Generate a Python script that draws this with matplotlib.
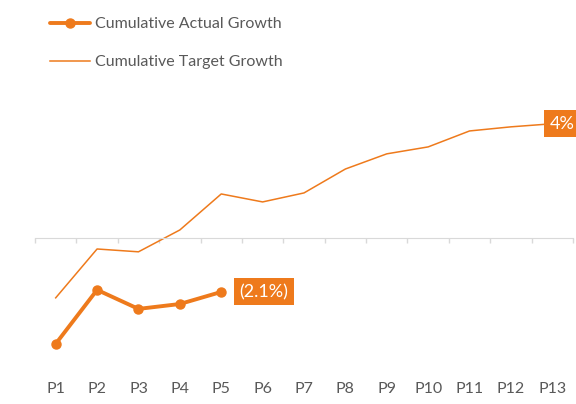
import matplotlib.pyplot as plt
from matplotlib.transforms import blended_transform_factory

plt.rcParams['font.family'] = ['Lato', 'DejaVu Sans']

periods = ['P1', 'P2', 'P3', 'P4', 'P5', 'P6', 'P7', 'P8', 'P9', 'P10', 'P11', 'P12', 'P13']
actual = [-4.12, -2.02, -2.76, -2.57, -2.1]
target = [-2.33, -0.43, -0.54, 0.31, 1.71, 1.40, 1.75, 2.68, 3.27, 3.54, 4.16, 4.32, 4.44]
actual_label = '(2.1%)'
target_label = '4%'

orange = '#EE7A1C'
grey_txt = '#595959'

fig = plt.figure(figsize=(5.76, 4.04), dpi=100)
ax = fig.add_axes([35 / 576, 1 - 366.5 / 404, 538 / 576, 270 / 404])

x = list(range(len(periods)))
ax.plot(x[:len(actual)], actual, color=orange, lw=2.8, marker='o', ms=6.5,
        solid_capstyle='round', label='Cumulative Actual Growth')
ax.plot(x, target, color=orange, lw=1.1, label='Cumulative Target Growth')

ax.set_xlim(-0.5, len(periods) - 0.5)
ax.set_ylim(-5, 5.5)

for s in ['top', 'left', 'right']:
    ax.spines[s].set_visible(False)
ax.spines['bottom'].set_position(('data', 0))
ax.spines['bottom'].set_color('#D9D9D9')
ax.set_yticks([])
ax.set_xticks([i - 0.5 for i in range(len(periods) + 1)])
ax.set_xticklabels([])
ax.tick_params(axis='x', direction='out', length=3.5, color='#D9D9D9', width=1)

tr = blended_transform_factory(ax.transData, ax.transAxes)
for i, p in enumerate(periods):
    ax.text(i, -0.083, p, transform=tr, ha='center', va='center',
            fontsize=11.5, color=grey_txt)

box = dict(boxstyle='square,pad=0.3', fc=orange, ec='none')
ax.annotate(actual_label, (len(actual) - 1, actual[-1]), xytext=(18, 0),
            textcoords='offset pixels', ha='left', va='center', fontsize=13,
            color='white', bbox=box, annotation_clip=False)
ax.annotate(target_label, (len(target) - 1, target[-1]), xytext=(-3, 0),
            textcoords='offset pixels', ha='left', va='center', fontsize=13,
            color='white', bbox=box, annotation_clip=False)

fig.legend(loc='upper left', bbox_to_anchor=(50 / 576, 1 - 17 / 404),
           frameon=False, fontsize=11.5, labelcolor=grey_txt,
           handlelength=2.5, handletextpad=0.3, labelspacing=1.5,
           borderpad=0, borderaxespad=0)

fig.savefig('out.png', dpi=100)
